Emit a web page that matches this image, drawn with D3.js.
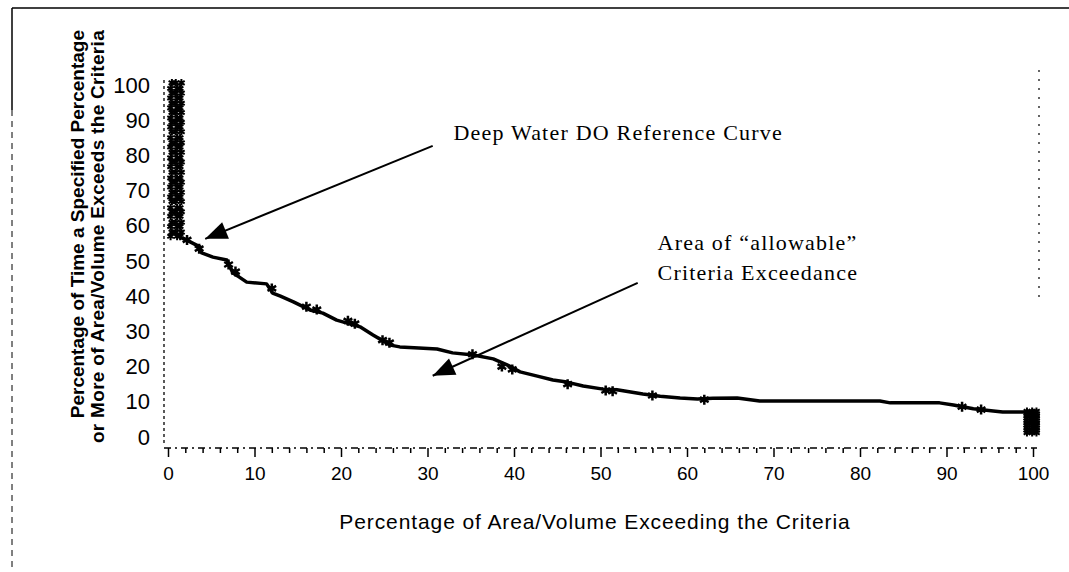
<!DOCTYPE html>
<html>
<head>
<meta charset="utf-8">
<script src="https://cdn.jsdelivr.net/npm/d3@7"></script>
<style>
  body { margin: 0; background: #fff; }
  svg { display: block; }
</style>
</head>
<body>
<div id="chart"></div>
<script>
// Reference curve (x = % of area/volume, y = % of time)
const curveX = [1.4, 2.5, 3.7, 3.9, 5.2, 6.8, 7.5, 8.2, 9.1, 11.4, 12.1, 13.0, 14.5, 16.4, 17.9, 19.5, 20.5, 22.2, 23.7, 25.7,
                26.8, 29.0, 31.1, 32.9, 35.3, 37.6, 39.2, 40.7, 42.7, 44.5, 46.1, 48.0, 50.3, 51.9, 54.9, 56.9, 59.2, 61.2,
                63.0, 65.8, 68.4, 75.0, 82.3, 83.5, 89.2, 90.8, 93.1, 95.4, 96.5, 99.3, 100];
const curveY = [56.8, 55.5, 54.0, 52.3, 51.1, 50.3, 46.6, 45.5, 44.0, 43.5, 40.9, 40.0, 38.4, 36.1, 35.2, 33.2, 32.5, 31.3, 29.0, 26.1,
                25.6, 25.3, 25.0, 23.9, 23.3, 22.2, 20.5, 18.5, 17.3, 16.2, 15.6, 14.5, 13.6, 13.4, 12.2, 11.6, 11.1, 10.8,
                11.0, 11.1, 10.2, 10.2, 10.2, 9.7, 9.7, 9.1, 8.0, 7.4, 7.1, 7.1, 7.0];

// clusters of overlapping points along the curve
const blobX = [2.2, 3.6, 7.0, 7.8, 12.0, 16.0, 17.2, 20.8, 21.6, 24.8, 25.6, 35.2, 38.6, 39.8, 46.2, 50.6, 51.4, 56.0, 62.0, 91.8, 94.0];
const blobY = [56.0, 53.5, 49.0, 47.0, 42.2, 37.0, 36.2, 33.0, 32.2, 27.5, 26.8, 23.5, 20.0, 19.2, 15.0, 13.2, 13.0, 11.8, 10.6, 8.6, 7.8];

// scatter of points stacked at x = 0 and x = 100
const leftBandX = [0.3, 0.9, 1.4];
const leftBandY = [57, 58.2, 59.8, 61, 62.7, 64, 65.1, 66.9, 68.2, 69.5, 71, 72.4, 73.6, 75.2, 76.8, 78.1, 79.3, 80.9,
                   82.4, 83.6, 85, 86.7, 88.1, 89.4, 90.6, 92.2, 93.5, 94.8, 96.3, 97.7, 99, 100.6];
const rightBandX = [99.3, 99.9, 100.4];
const rightBandY = [1.2, 1.9, 2.6, 3.3, 4.0, 4.6, 5.3, 6.0, 6.6, 7.3];

const xTicks = [0, 10, 20, 30, 40, 50, 60, 70, 80, 90, 100];
const xMinorTicks = [2, 4, 6, 8, 12, 14, 16, 18, 22, 24, 26, 28, 32, 34, 36, 38, 42, 44, 46, 48, 52, 54, 56, 58,
                     62, 64, 66, 68, 72, 74, 76, 78, 82, 84, 86, 88, 92, 94, 96, 98];
const yTicks = [0, 10, 20, 30, 40, 50, 60, 70, 80, 90, 100];

// annotations: label position and arrow (tail -> head) in data units
const notes = [
  {lines: ["Deep Water DO Reference Curve"], tx: 33, ty: 84.5, from: [30.6, 82.7], to: [4.3, 56.3]},
  {lines: ["Area of \u201callowable\u201d", "Criteria Exceedance"], tx: 56.6, ty: 53, from: [54.3, 43.8], to: [30.6, 17.4]}
];

const W = 1069, H = 572;

const svg = d3.select("#chart")
  .append("svg")
  .attr("width", W)
  .attr("height", H);

svg.append("rect").attr("width", W).attr("height", H).attr("fill", "#fff");

// scanned page frame
svg.append("line").attr("x1", 12).attr("x2", W).attr("y1", 8).attr("y2", 8)
  .attr("stroke", "#000").attr("stroke-width", 1.5);
svg.append("line").attr("x1", 12).attr("x2", 12).attr("y1", 8).attr("y2", 110)
  .attr("stroke", "#000").attr("stroke-width", 1.5);
svg.append("line").attr("x1", 12).attr("x2", 12).attr("y1", 110).attr("y2", H)
  .attr("stroke", "#000").attr("stroke-width", 1).attr("stroke-dasharray", "6,5");

const x = d3.scaleLinear().domain([0, 100]).range([168, 1033]);
const y = d3.scaleLinear().domain([0, 100]).range([437, 85]);
const axisY = 448;

// right dotted edge of plot area
svg.append("line").attr("x1", 1039).attr("x2", 1039).attr("y1", 70).attr("y2", 300)
  .attr("stroke", "#000").attr("stroke-width", 1.2).attr("stroke-dasharray", "2,7");

// y axis
svg.append("line").attr("x1", 164).attr("x2", 164).attr("y1", 80).attr("y2", axisY - 4)
  .attr("stroke", "#000").attr("stroke-width", 1.3).attr("stroke-dasharray", "3,3");

svg.append("g")
  .attr("transform", "translate(164,0)")
  .call(d3.axisLeft(y).tickValues(yTicks).tickSize(0).tickPadding(14))
  .call(g => g.select(".domain").remove())
  .selectAll("text")
  .attr("font-family", "Liberation Sans, Arial, sans-serif")
  .attr("font-size", 22)
  .attr("fill", "#000");

// x axis
const gx = svg.append("g").attr("transform", `translate(0,${axisY})`);
gx.append("line").attr("x1", 164).attr("x2", 1037).attr("y1", 0).attr("y2", 0)
  .attr("stroke", "#000").attr("stroke-width", 1.3).attr("stroke-dasharray", "7,4,2,4");
gx.call(d3.axisBottom(x).tickValues(xMinorTicks).tickSize(5).tickFormat(""))
  .call(g => g.select(".domain").remove());
const gMajor = svg.append("g").attr("transform", `translate(0,${axisY})`)
  .call(d3.axisBottom(x).tickValues(xTicks).tickSize(9).tickPadding(10))
  .call(g => g.select(".domain").remove());
gMajor.selectAll("text")
  .attr("font-family", "Liberation Sans, Arial, sans-serif")
  .attr("font-size", 19)
  .attr("fill", "#000");
svg.selectAll(".tick line").attr("stroke", "#000").attr("stroke-width", 1.5);

// axis titles
svg.append("text")
  .attr("x", 595)
  .attr("y", 529)
  .attr("text-anchor", "middle")
  .attr("font-family", "Liberation Sans, Arial, sans-serif")
  .attr("font-size", 21)
  .attr("letter-spacing", 0.9)
  .text("Percentage of Area/Volume Exceeding the Criteria");

const yTitle = svg.append("text")
  .attr("transform", "rotate(-90)")
  .attr("text-anchor", "end")
  .attr("font-family", "Liberation Sans, Arial, sans-serif")
  .attr("font-size", 19)
  .attr("font-weight", "bold");
yTitle.append("tspan").attr("x", -30).attr("y", 84).text("Percentage of Time a Specified Percentage");
yTitle.append("tspan").attr("x", -30).attr("y", 104).attr("letter-spacing", 0.3).text("or More of Area/Volume Exceeds the Criteria");

// stacked scatter at both ends
const star = d3.symbol().type(d3.symbolAsterisk).size(40);
const bandPts = [];
leftBandY.forEach((v, i) => leftBandX.forEach((u, j) => bandPts.push([u + ((i + j) % 2) * 0.15, v])));
rightBandY.forEach(v => rightBandX.forEach(u => bandPts.push([u, v])));
svg.append("g").selectAll("path")
  .data(bandPts)
  .enter()
  .append("path")
  .attr("transform", d => `translate(${x(d[0])},${y(d[1])})`)
  .attr("d", star)
  .attr("fill", "none")
  .attr("stroke", "#000")
  .attr("stroke-width", 2);

// reference curve
const line = d3.line()
  .x(d => x(d[0]))
  .y(d => y(d[1]));
svg.append("path")
  .datum(curveX.map((v, i) => [v, curveY[i]]))
  .attr("d", line)
  .attr("fill", "none")
  .attr("stroke", "#000")
  .attr("stroke-width", 3.5)
  .attr("stroke-linejoin", "round");

const blob = d3.symbol().type(d3.symbolAsterisk).size(70);
svg.append("g").selectAll("path")
  .data(blobX.map((v, i) => [v, blobY[i]]))
  .enter()
  .append("path")
  .attr("transform", d => `translate(${x(d[0])},${y(d[1])})`)
  .attr("d", blob)
  .attr("fill", "none")
  .attr("stroke", "#000")
  .attr("stroke-width", 2.5);

// annotations with arrows
notes.forEach(n => {
  const x1 = x(n.from[0]), y1 = y(n.from[1]), x2 = x(n.to[0]), y2 = y(n.to[1]);
  svg.append("line")
    .attr("x1", x1).attr("y1", y1)
    .attr("x2", x2).attr("y2", y2)
    .attr("stroke", "#000").attr("stroke-width", 2);
  // arrowhead: filled triangle pointing at the target
  const a = Math.atan2(y2 - y1, x2 - x1), L = 22, Wd = 9;
  const bx = x2 - L * Math.cos(a), by = y2 - L * Math.sin(a);
  svg.append("path")
    .attr("d", `M${x2},${y2}L${bx + Wd * Math.sin(a)},${by - Wd * Math.cos(a)}L${bx - Wd * Math.sin(a)},${by + Wd * Math.cos(a)}Z`)
    .attr("fill", "#000");
  const t = svg.append("text")
    .attr("font-family", "Liberation Serif, Times New Roman, serif")
    .attr("font-size", 22)
    .attr("letter-spacing", 1.2)
    .attr("fill", "#000");
  n.lines.forEach((s, i) => t.append("tspan").attr("x", x(n.tx)).attr("y", y(n.ty) + i * 30).text(s));
});
</script>
</body>
</html>
